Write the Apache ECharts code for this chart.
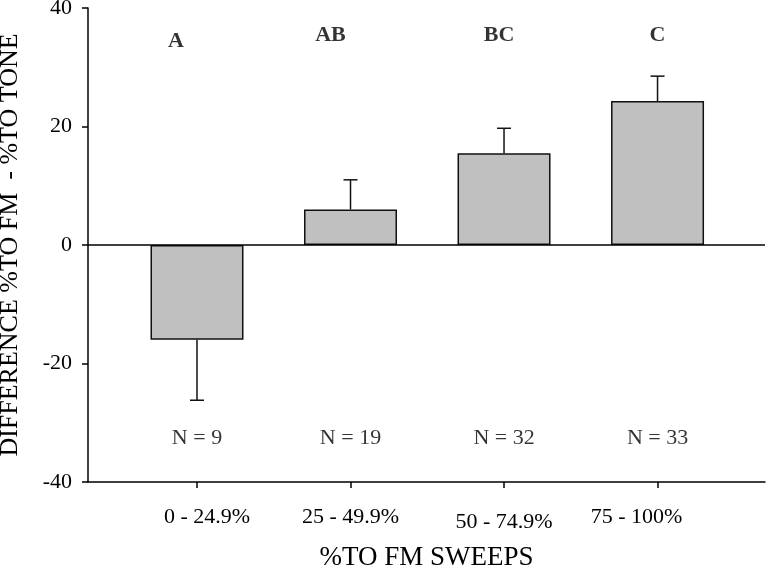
<!DOCTYPE html>
<html>
<head>
<meta charset="utf-8">
<script src="https://cdn.jsdelivr.net/npm/echarts@6/dist/echarts.min.js"></script>
<style>html,body{margin:0;padding:0;background:#fff}#c{width:766px;height:569px}</style>
</head>
<body>
<div id="c"></div>
<script>
const categories = ['0 - 24.9%', '25 - 49.9%', '50 - 74.9%', '75 - 100%'];
const means = [-16, 6, 15.5, 24.3];
const errors = [10.2, 5.0, 4.2, 4.2];
const groupLetters = ['A', 'AB', 'BC', 'C'];
const sampleSizes = [9, 19, 32, 33];
const yMin = -40, yMax = 40, yStep = 20;
const xTitle = '%TO FM SWEEPS';
const yTitle = 'DIFFERENCE %TO FM  - %TO TONE';

const FONT = "'Liberation Serif', 'Times New Roman', serif";
const positions = categories.map((c, i) => i + 1);
// layout tweaks for text (pixel offsets)
const letterOffsets = [[-21, 6], [-20, 0], [-5, 0], [0, 0]];
const labelPad = [[0, 0, 0, 20], [0, 0, 0, 0], [5, 0, 0, 0], [0, 42, 0, 0]];
const letterLevel = 35.4, nLevel = -32.6;

const chart = echarts.init(document.getElementById('c'), null, {renderer: 'canvas'});
const rich = {};
labelPad.forEach((p, i) => { rich['p' + i] = {padding: p, fontFamily: FONT, fontSize: 22, color: '#000'}; });

chart.setOption({
  animation: false,
  backgroundColor: '#fff',
  grid: {left: 88, right: 1, top: 8, bottom: 87, outerBoundsMode: 'none'},
  xAxis: {
    type: 'value', min: 0.29, max: 4.7,
    splitLine: {show: false},
    axisLine: {show: true, onZero: false, lineStyle: {color: '#000', width: 1.5}},
    axisTick: {show: true, customValues: positions, length: 6, lineStyle: {color: '#000', width: 1.5}},
    axisLabel: {
      customValues: positions, margin: 24,
      formatter: v => { const i = Math.round(v) - 1; return '{p' + i + '|' + categories[i] + '}'; },
      rich: rich
    },
    name: xTitle, nameLocation: 'middle', nameGap: 62,
    nameTextStyle: {fontFamily: FONT, fontSize: 27, color: '#000'}
  },
  yAxis: {
    type: 'value', min: yMin, max: yMax, interval: yStep,
    splitLine: {show: false},
    axisLine: {show: true, lineStyle: {color: '#000', width: 1.5}},
    axisTick: {show: true, length: 6, lineStyle: {color: '#000', width: 1.5}},
    axisLabel: {margin: 16, fontFamily: FONT, fontSize: 22, color: '#000'},
    name: yTitle, nameLocation: 'middle', nameGap: 65, nameRotate: 90,
    nameTextStyle: {fontFamily: FONT, fontSize: 26, color: '#000'}
  },
  series: [
    {
      type: 'bar', barWidth: 93,
      data: means.map((m, i) => [positions[i], m]),
      itemStyle: {color: '#c0c0c0', borderColor: '#111', borderWidth: 1.5},
      markLine: {
        silent: true, symbol: 'none', label: {show: false},
        lineStyle: {color: '#000', width: 1.5, type: 'solid'},
        data: [{yAxis: 0}]
      },
      z: 2
    },
    {
      type: 'custom',
      data: means.map((m, i) => [positions[i], m, m + (m < 0 ? -errors[i] : errors[i])]),
      renderItem: function (params, api) {
        const a = api.coord([api.value(0), api.value(1)]);
        const b = api.coord([api.value(0), api.value(2)]);
        const st = {stroke: '#111', lineWidth: 1.5};
        return {
          type: 'group',
          children: [
            {type: 'line', shape: {x1: a[0], y1: a[1], x2: b[0], y2: b[1]}, style: st},
            {type: 'line', shape: {x1: b[0] - 7, y1: b[1], x2: b[0] + 7, y2: b[1]}, style: st}
          ]
        };
      },
      z: 3
    },
    {
      type: 'scatter', symbolSize: 0,
      data: groupLetters.map((t, i) => ({value: [positions[i], letterLevel], name: t,
        label: {offset: letterOffsets[i]}})),
      label: {show: true, position: 'inside', formatter: p => p.name,
        fontFamily: FONT, fontSize: 22, fontWeight: 'bold', color: '#000'},
      silent: true
    },
    {
      type: 'scatter', symbolSize: 0,
      data: sampleSizes.map((n, i) => ({value: [positions[i], nLevel], name: 'N = ' + n})),
      label: {show: true, position: 'inside', formatter: p => p.name,
        fontFamily: FONT, fontSize: 22, color: '#000'},
      silent: true
    }
  ]
});
</script>
</body>
</html>
